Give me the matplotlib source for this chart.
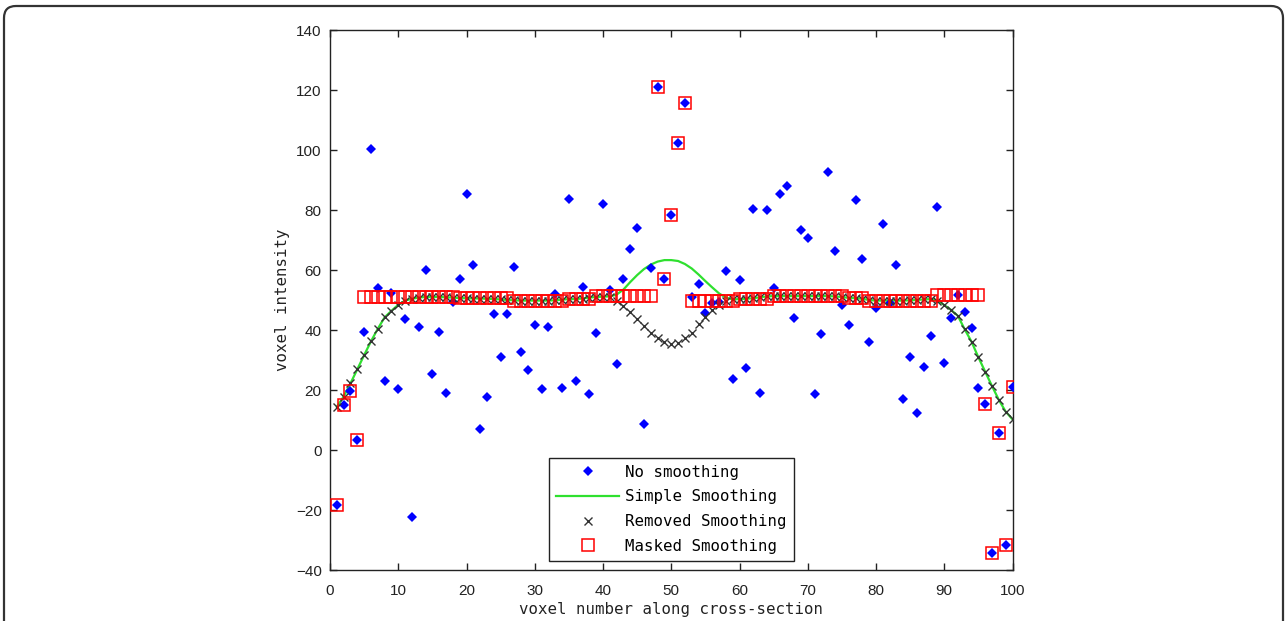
import matplotlib
matplotlib.use("Agg")
import matplotlib.pyplot as plt
from matplotlib.patches import FancyBboxPatch
import numpy as np

voxel = list(range(1, 101))

no_smoothing = [
    -18.3, 14.9, 19.6, 3.2, 39.4, 100.4, 53.9, 22.9, 52.2, 20.2,
    43.8, -22.3, 41.1, 60.1, 25.3, 39.4, 19.1, 49.4, 57.0, 85.3,
    61.7, 7.1, 17.6, 45.4, 31.1, 45.4, 61.1, 32.8, 26.6, 41.7,
    20.2, 41.1, 52.0, 20.8, 83.7, 22.9, 54.4, 18.6, 39.1, 82.1,
    53.3, 28.6, 57.0, 66.9, 74.1, 8.7, 60.7, 121.0, 57.0, 78.4,
    102.4, 115.7, 51.0, 55.3, 45.8, 49.1, 49.4, 59.6, 23.8, 56.7,
    27.4, 80.4, 19.1, 80.0, 54.0, 85.3, 88.0, 43.9, 73.2, 70.6,
    18.7, 38.6, 92.6, 66.4, 48.3, 41.7, 83.2, 63.8, 35.9, 47.5,
    75.3, 49.1, 61.7, 17.1, 31.1, 12.3, 27.6, 38.0, 81.0, 29.1,
    43.9, 51.7, 45.9, 40.6, 20.8, 15.4, -34.4, 5.6, -31.7, 21.1,
]

simple_smoothing = [
    14.4, 17.8, 22.2, 26.9, 31.6, 36.2, 40.4, 44.2, 46.4, 48.4,
    49.8, 50.4, 50.8, 51.0, 51.0, 51.0, 50.9, 50.8, 50.6, 50.6,
    50.5, 50.5, 50.4, 50.3, 50.2, 50.0, 49.9, 49.8, 49.8, 49.8,
    49.8, 49.8, 49.9, 50.1, 50.3, 50.3, 50.5, 50.8, 51.0, 51.1,
    51.2, 51.8, 53.5, 56.0, 58.3, 60.3, 61.8, 62.8, 63.3, 63.3,
    63.0, 62.0, 60.5, 58.5, 56.3, 54.2, 52.2, 50.8, 50.2, 50.3,
    50.4, 50.6, 50.9, 51.2, 51.3, 51.3, 51.3, 51.3, 51.3, 51.3,
    51.3, 51.3, 51.3, 51.2, 51.0, 50.7, 50.6, 50.4, 50.0, 49.8,
    49.8, 49.8, 49.8, 49.8, 49.9, 50.0, 50.2, 50.3, 49.8, 48.3,
    46.7, 44.7, 40.2, 36.1, 30.9, 26.1, 21.3, 16.7, 12.8, 10.2,
]

removed_smoothing = [
    14.4, 17.8, 22.2, 26.9, 31.6, 36.2, 40.4, 44.2, 46.4, 48.4,
    49.8, 50.4, 50.8, 51.0, 51.0, 51.0, 50.9, 50.8, 50.6, 50.6,
    50.5, 50.5, 50.4, 50.3, 50.2, 50.0, 49.9, 49.8, 49.8, 49.8,
    49.8, 49.8, 49.9, 50.1, 50.3, 50.3, 50.5, 50.8, 51.0, 51.1,
    51.0, 49.8, 48.0, 46.0, 43.6, 41.2, 39.0, 37.2, 36.0, 35.4,
    35.8, 37.2, 39.1, 42.0, 44.4, 46.6, 48.2, 49.6, 50.2, 50.3,
    50.4, 50.6, 50.9, 51.2, 51.3, 51.3, 51.3, 51.3, 51.3, 51.3,
    51.3, 51.3, 51.3, 51.2, 51.0, 50.7, 50.6, 50.4, 50.0, 49.8,
    49.8, 49.8, 49.8, 49.8, 49.9, 50.0, 50.2, 50.3, 49.8, 48.3,
    46.7, 44.7, 40.2, 36.1, 30.9, 26.1, 21.3, 16.7, 12.8, 10.2,
]

masked_smoothing = [
    -18.3, 14.9, 19.6, 3.2, 51.1, 51.1, 51.1, 51.1, 51.1, 51.0,
    51.0, 51.0, 51.0, 51.0, 51.0, 51.0, 51.0, 51.0, 50.6, 50.6,
    50.6, 50.6, 50.6, 50.6, 50.6, 50.6, 49.8, 49.8, 49.8, 49.8,
    49.8, 49.8, 49.8, 49.8, 50.3, 50.3, 50.3, 50.3, 51.2, 51.2,
    51.2, 51.2, 51.2, 51.2, 51.2, 51.2, 51.2, 121.0, 57.0, 78.4,
    102.4, 115.7, 49.8, 49.8, 49.8, 49.8, 49.8, 49.8, 49.8, 50.3,
    50.3, 50.3, 50.3, 50.3, 51.3, 51.3, 51.3, 51.3, 51.3, 51.3,
    51.3, 51.3, 51.3, 51.3, 51.3, 50.6, 50.6, 50.6, 49.8, 49.8,
    49.8, 49.8, 49.8, 49.8, 49.8, 49.8, 49.8, 49.8, 51.7, 51.7,
    51.7, 51.7, 51.7, 51.7, 51.7, 15.4, -34.4, 5.6, -31.7, 21.1,
]

legend_labels = ["No smoothing", "Simple Smoothing", "Removed Smoothing", "Masked Smoothing"]
x_ticks = list(range(0, 101, 10))
y_ticks = list(range(-40, 141, 20))

W, H = 1288, 621
fig = plt.figure(figsize=(W / 100, H / 100), dpi=100)
fig.patch.set_facecolor("white")

# rounded frame around the figure (bottom cropped)
frame = FancyBboxPatch((4, -40), 1279, H - 6 + 40,
                       boxstyle="round,pad=0,rounding_size=12",
                       transform=None, facecolor="none",
                       edgecolor="#333333", linewidth=1.6)
fig.patches.append(frame)

ax = fig.add_axes([330 / W, 1 - 570 / H, (1012.5 - 330) / W, 540 / H])

mono = "DejaVu Sans Mono"
sans = "Liberation Sans"

ax.plot(voxel, no_smoothing, linestyle="none", marker="D", markersize=4.6,
        color="#0000ff", markeredgewidth=0, label=legend_labels[0], zorder=3)
ax.plot(voxel, simple_smoothing, color="#2fe02f", linewidth=1.6,
        label=legend_labels[1], zorder=2)
ax.plot(voxel, removed_smoothing, linestyle="none", marker="x", markersize=6,
        color="#333333", markeredgewidth=1.0, label=legend_labels[2], zorder=4)
ax.plot(voxel, masked_smoothing, linestyle="none", marker="s", markersize=8.2,
        markerfacecolor="none", markeredgecolor="#ff0000", markeredgewidth=1.1,
        label=legend_labels[3], zorder=5)

ax.set_xlim(0, 100)
ax.set_ylim(-40, 140)
ax.set_xticks(x_ticks)
ax.set_yticks(y_ticks)
ax.tick_params(direction="in", length=5, width=1, top=True, right=True,
               labelsize=11, colors="#222222")
ax.tick_params(axis="x", pad=10)
ax.tick_params(axis="y", pad=6)
for lab in ax.get_xticklabels() + ax.get_yticklabels():
    lab.set_fontfamily(sans)
for sp in ax.spines.values():
    sp.set_linewidth(1.0)
    sp.set_color("#222222")

ax.set_xlabel("voxel number along cross-section", fontfamily=mono,
              fontsize=11.3, color="#222222", labelpad=3)
ax.set_ylabel("voxel intensity", fontfamily=mono, fontsize=11.3,
              color="#222222", labelpad=4)

leg = ax.legend(loc="lower left", bbox_to_anchor=(0.321, 0.0167),
                borderaxespad=0, prop={"family": mono, "size": 11.3},
                fancybox=False, framealpha=1, edgecolor="#222222",
                handlelength=4.0, handletextpad=0.4, labelspacing=0.62,
                borderpad=0.45, markerscale=1.0)
leg.get_frame().set_linewidth(1.0)

fig.savefig("out.png", dpi=100)
